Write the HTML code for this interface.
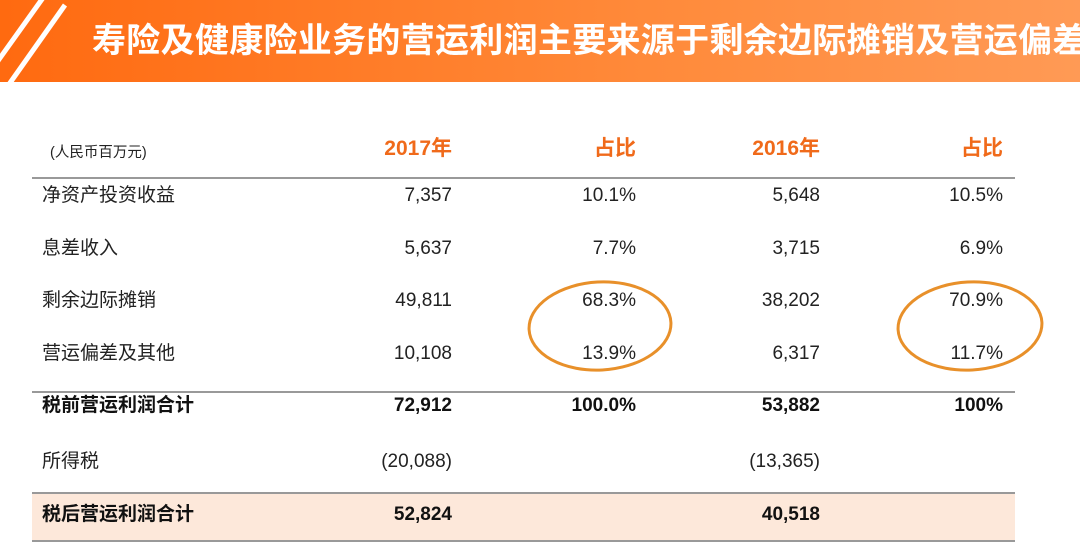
<!DOCTYPE html>
<html><head><meta charset="utf-8"><style>
body{margin:0;width:1080px;height:556px;overflow:hidden;background:#fff;font-family:"Liberation Sans","Noto Sans CJK SC",sans-serif;position:relative}
.banner{position:absolute;left:0;top:0;width:1080px;height:82px;background:linear-gradient(90deg,#ff6a10,#ff8a3a 60%,#ff9a55);overflow:hidden}
.title{position:absolute;left:92px;top:13px;font-size:34px;font-weight:bold;color:#fff;white-space:nowrap;letter-spacing:0.3px}
.t{position:absolute;font-size:19px;color:#222;white-space:nowrap;line-height:22px}
.r{text-align:right}
.b{font-weight:bold;color:#111}
.h{color:#f06a1a;font-weight:bold;font-size:21px}
.line{position:absolute;left:32px;width:983px;height:2px;background:#999}
</style></head><body>
<div class="banner">
<svg width="200" height="82" style="position:absolute;left:0;top:0">
<line x1="-10" y1="72" x2="45" y2="-5" stroke="#fff" stroke-width="5"/>
<line x1="5" y1="90" x2="65" y2="5" stroke="#fff" stroke-width="5"/>
</svg>
<div class="title">寿险及健康险业务的营运利润主要来源于剩余边际摊销及营运偏差</div>
</div>
<div class="t" style="left:50px;top:142px;font-size:14.5px">(人民币百万元)</div>
<div class="t h r" style="left:352px;width:100px;top:138px">2017年</div>
<div class="t h r" style="left:536px;width:100px;top:138px">占比</div>
<div class="t h r" style="left:720px;width:100px;top:138px">2016年</div>
<div class="t h r" style="left:903px;width:100px;top:138px">占比</div>
<div class="line" style="top:177px"></div>
<div class="line" style="top:391px"></div>
<div style="position:absolute;left:32px;top:493px;width:983px;height:47px;background:#fde8da"></div>
<div class="line" style="top:492px"></div>
<div class="line" style="top:540px"></div>
<div id="rows"></div>
<svg width="1080" height="556" style="position:absolute;left:0;top:0;pointer-events:none">
<ellipse cx="600" cy="326" rx="71" ry="44" fill="none" stroke="#e8902a" stroke-width="3" transform="rotate(-3 600 326)"/>
<ellipse cx="970" cy="326" rx="72" ry="44" fill="none" stroke="#e8902a" stroke-width="3" transform="rotate(-3 970 326)"/>
</svg>
<script>
const labels=["净资产投资收益","息差收入","剩余边际摊销","营运偏差及其他","税前营运利润合计","所得税","税后营运利润合计"];
const v2017=["7,357","5,637","49,811","10,108","72,912","(20,088)","52,824"];
const p2017=["10.1%","7.7%","68.3%","13.9%","100.0%","",""];
const v2016=["5,648","3,715","38,202","6,317","53,882","(13,365)","40,518"];
const p2016=["10.5%","6.9%","70.9%","11.7%","100%","",""];
const bold=[false,false,false,false,true,false,true];
const ys=[185,238,290,343,395,451,504];
const cols=[[v2017,352],[p2017,536],[v2016,720],[p2016,903]];
const root=document.getElementById('rows');
labels.forEach((l,i)=>{
  const d=document.createElement('div');
  d.className='t'+(bold[i]?' b':'');
  d.style.left='42px';d.style.top=ys[i]+'px';
  d.textContent=l;
  
  
  root.appendChild(d);
  cols.forEach(([arr,x])=>{
    const c=document.createElement('div');
    c.className='t r'+(bold[i]?' b':'');
    c.style.left=x+'px';c.style.width='100px';c.style.top=ys[i]+'px';
    c.textContent=arr[i];
    
    
    root.appendChild(c);
  });
});
</script>
</body></html>
